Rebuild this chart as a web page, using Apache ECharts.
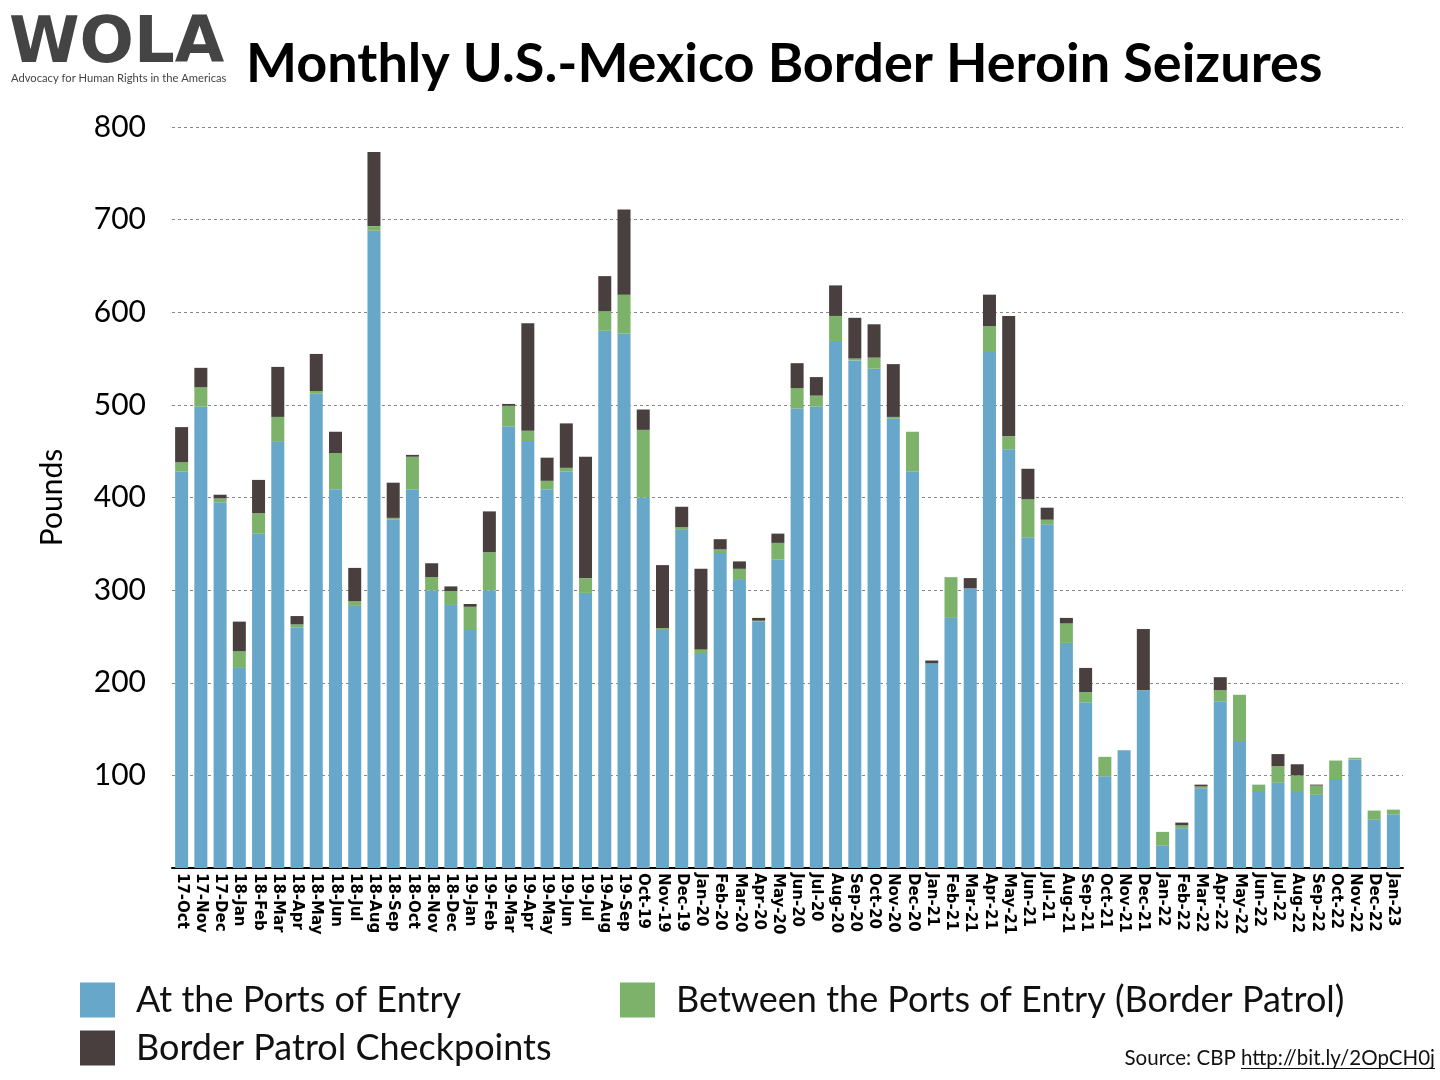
<!DOCTYPE html>
<html>
<head>
<meta charset="utf-8">
<script src="https://cdn.jsdelivr.net/npm/echarts@6/dist/echarts.min.js"></script>
<style>
html,body{margin:0;padding:0;background:#fff;}
#chart{width:1440px;height:1080px;}
</style>
</head>
<body>
<div id="chart"></div>
<script>
const months = ['17-Oct','17-Nov','17-Dec','18-Jan','18-Feb','18-Mar','18-Apr','18-May','18-Jun','18-Jul','18-Aug','18-Sep','18-Oct','18-Nov','18-Dec','19-Jan','19-Feb','19-Mar','19-Apr','19-May','19-Jun','19-Jul','19-Aug','19-Sep','Oct-19','Nov-19','Dec-19','Jan-20','Feb-20','Mar-20','Apr-20','May-20','Jun-20','Jul-20','Aug-20','Sep-20','Oct-20','Nov-20','Dec-20','Jan-21','Feb-21','Mar-21','Apr-21','May-21','Jun-21','Jul-21','Aug-21','Sep-21','Oct-21','Nov-21','Dec-21','Jan-22','Feb-22','Mar-22','Apr-22','May-22','Jun-22','Jul-22','Aug-22','Sep-22','Oct-22','Nov-22','Dec-22','Jan-23'];

const portsOfEntry = [428,498,395,216,361,460,260,512,409,283,688,376,409,300,284,258,300,477,461,409,428,297,580,577,400,257,365,232,340,311,266,333,496,498,569,548,539,485,428,221,270,302,557,452,357,371,243,179,99,127,192,24,43,86,180,136,83,92,82,79,96,117,52,58];

const betweenPorts = [10,21,4,18,22,27,3,3,39,5,5,2,35,14,15,24,41,22,11,9,4,16,21,42,73,2,3,4,4,12,1,18,22,12,27,2,12,2,43,0,44,0,28,14,41,5,21,11,21,0,0,15,3,2,12,51,7,18,18,10,20,2,10,5];

const checkpoints = [38,21,4,32,36,54,9,40,23,36,80,38,2,15,5,3,44,2,116,25,48,131,38,92,22,68,22,87,11,8,3,10,27,20,33,44,36,57,0,3,0,11,34,130,33,13,6,26,0,0,66,0,3,2,14,0,0,13,12,1,0,0,0,0];

const yTicks = [100,200,300,400,500,600,700,800];

const seriesNames = ['At the Ports of Entry','Between the Ports of Entry (Border Patrol)','Border Patrol Checkpoints'];
const colors = ['#67A7CA','#7DB26A','#4A3F3F'];

const sourceLabel = 'Source: CBP ';
const sourceLink = 'http://bit.ly/2OpCH0j';

const chart = echarts.init(document.getElementById('chart'));
const baseFont = 'Lato, "Noto Sans", sans-serif';
const sourceFontSize = 20.5;

// measure link text width for the underline
const mctx = document.createElement('canvas').getContext('2d');
mctx.font = sourceFontSize + 'px Lato';
const linkW = mctx.measureText(sourceLink).width;
const rightEdge = 1435;

const legendCommon = {
  orient: 'horizontal', icon: 'rect', itemWidth: 35, itemHeight: 35,
  textStyle: {fontFamily: baseFont, fontSize: 36, color: '#111', padding: [0, 0, 0, 16]},
  selectedMode: false
};
const option = {
  animation: false,
  backgroundColor: '#fff',
  color: colors,
  title: {
    text: 'Monthly U.S.-Mexico Border Heroin Seizures',
    left: 241, top: 33,
    textStyle: {fontFamily: baseFont, fontWeight: 'bold', fontSize: 54, color: '#000'}
  },
  legend: [
    Object.assign({data: [seriesNames[0]], left: 75, top: 977}, legendCommon),
    Object.assign({data: [seriesNames[1]], left: 615, top: 977}, legendCommon),
    Object.assign({data: [seriesNames[2]], left: 75, top: 1025}, legendCommon)
  ],
  grid: {left: 172, right: 37, top: 127, bottom: 212, containLabel: false},
  xAxis: {
    type: 'category',
    data: months,
    axisLine: {lineStyle: {color: '#000', width: 2}},
    axisTick: {show: false},
    axisLabel: {
      interval: 0, rotate: -90, margin: 5,
      fontFamily: '"DejaVu Sans", sans-serif', fontWeight: 'bold', fontSize: 15, color: '#000'
    }
  },
  yAxis: {
    type: 'value', min: 0, max: 800, interval: 100,
    name: 'Pounds', nameLocation: 'middle', nameGap: 105, nameRotate: 90,
    nameTextStyle: {fontFamily: baseFont, fontSize: 30, color: '#000'},
    axisLine: {show: false}, axisTick: {show: false},
    axisLabel: {
      margin: 26, fontFamily: baseFont, fontSize: 30, color: '#000',
      formatter: v => yTicks.indexOf(v) >= 0 ? String(v) : ''
    },
    splitLine: {lineStyle: {type: [3, 3], color: '#888', width: 1}}
  },
  series: [
    {name: seriesNames[0], type: 'bar', stack: 'total', data: portsOfEntry, barWidth: 13, itemStyle: {color: colors[0]}},
    {name: seriesNames[1], type: 'bar', stack: 'total', data: betweenPorts, barWidth: 13, itemStyle: {color: colors[1]}},
    {name: seriesNames[2], type: 'bar', stack: 'total', data: checkpoints, barWidth: 13, itemStyle: {color: colors[2]}}
  ],
  graphic: [
    {type: 'text', left: 9, top: 13, style: {text: 'WOLA', fontFamily: '"DejaVu Sans", sans-serif', fontWeight: 'bold', fontSize: 64, fill: '#444'}},
    {type: 'text', left: 11, top: 73, style: {text: 'Advocacy for Human Rights in the Americas', fontFamily: baseFont, fontSize: 11.2, fill: '#444'}},
    {type: 'text', x: rightEdge - linkW, y: 1058, style: {text: sourceLabel, fontFamily: baseFont, fontSize: sourceFontSize, fill: '#111', align: 'right', verticalAlign: 'middle'}},
    {type: 'text', x: rightEdge, y: 1058, style: {text: sourceLink, fontFamily: baseFont, fontSize: sourceFontSize, fill: '#111', align: 'right', verticalAlign: 'middle'}},
    {type: 'line', shape: {x1: rightEdge - linkW, y1: 1068.5, x2: rightEdge, y2: 1068.5}, style: {stroke: '#111', lineWidth: 1}}
  ]
};
chart.setOption(option);
</script>
</body>
</html>
